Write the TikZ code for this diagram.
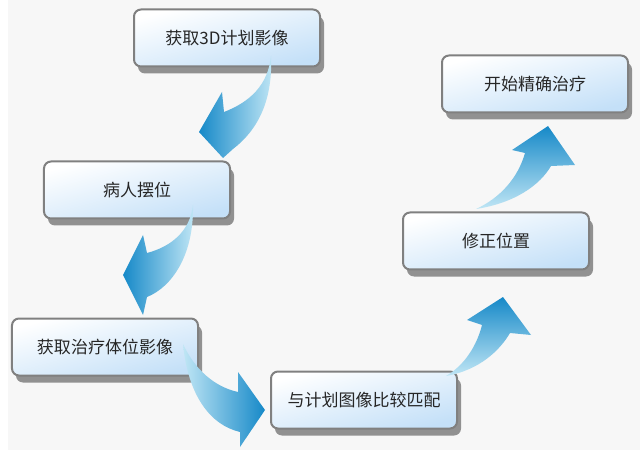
\documentclass[tikz,border=0pt]{standalone}
\usepackage{fontspec}
\newfontfamily\cjk{Noto Sans CJK SC}
\usetikzlibrary{shadows}
\definecolor{bggray}{RGB}{247,247,247}
\definecolor{boxline}{RGB}{128,128,128}
\definecolor{boxshadow}{RGB}{145,145,145}
\definecolor{boxblue}{RGB}{196,224,248}
\definecolor{arrdark}{RGB}{22,137,200}
\definecolor{arrlight}{RGB}{192,230,245}
\tikzset{
	stepbox/.style={draw=boxline, line width=2bp, rounded corners=7bp,
		top color=white, bottom color=boxblue, shading angle=15,
		minimum width=186bp, minimum height=57bp,
		drop shadow={shadow xshift=4bp, shadow yshift=-7bp, fill=boxshadow, opacity=1},
		font=\cjk\fontsize{17bp}{19bp}\selectfont, text=black!85}
}
\begin{document}
\begin{tikzpicture}[x=1bp,y=-1bp]
		% BACKGROUND
		\fill[white] (0,0) rectangle (640,458);
		\fill[bggray] (8,0) rectangle (640,450);
		\useasboundingbox (0,0) rectangle (640,458);
		
		% BLOCKS
		\node[stepbox] (plan) at (227,38) {获取3D计划影像};
		\node[stepbox] (setup) at (137,190) {病人摆位};
		\node[stepbox] (scan) at (105,347) {获取治疗体位影像};
		\node[stepbox] (match) at (364,400) {与计划图像比较匹配};
		\node[stepbox] (fix) at (496,241) {修正位置};
		\node[stepbox] (treat) at (535,84) {开始精确治疗};
		
		% ARROWS
		\shade[left color=arrdark, right color=arrlight] (271,56) .. controls (268,85) and (250,102) .. (224,112)
			-- (222,92) -- (199,132) -- (223,158) -- (233,149)
			.. controls (258,130) and (273,100) .. (271,56) -- cycle;
		\shade[left color=arrdark, right color=arrlight] (193,205) .. controls (190,232) and (170,247) .. (147,253)
			-- (143,235) -- (123,275) -- (143,315) -- (147,297)
			.. controls (172,287) and (194,255) .. (193,205) -- cycle;
		\shade[left color=arrlight, right color=arrdark] (183,344) .. controls (195,370) and (215,387) .. (238,392)
			-- (238,372) -- (265,410) -- (240,447) -- (240,432)
			.. controls (210,425) and (188,395) .. (183,344) -- cycle;
		\shade[top color=arrdark, bottom color=arrlight] (446,376) .. controls (480,370) and (500,350) .. (510,333)
			-- (531,335) -- (503,297) -- (467,320) -- (482,325)
			.. controls (477,345) and (465,365) .. (446,376) -- cycle;
		\shade[top color=arrdark, bottom color=arrlight] (476,209) .. controls (515,203) and (540,185) .. (551,166)
			-- (575,165) -- (548,126) -- (512,150) -- (525,153)
			.. controls (518,178) and (500,198) .. (476,209) -- cycle;
\end{tikzpicture}
\end{document}
